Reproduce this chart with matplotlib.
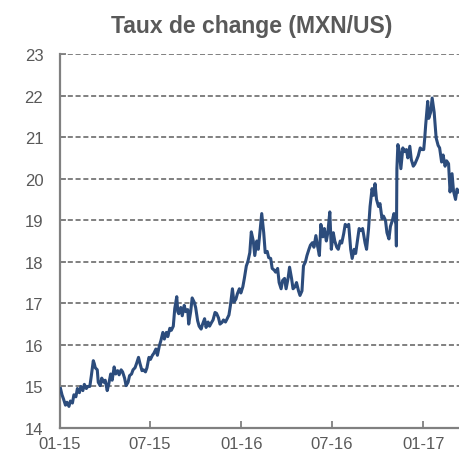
import matplotlib
matplotlib.use("Agg")
import matplotlib.pyplot as plt
import matplotlib.dates as mdates
import pandas as pd

plt.rcParams['font.family'] = ['Liberation Sans', 'DejaVu Sans']

title = "Taux de change (MXN/US)"

dates = [
    "2015-01-02","2015-01-05","2015-01-08","2015-01-12","2015-01-15","2015-01-19","2015-01-22","2015-01-26","2015-01-29",
    "2015-02-02","2015-02-05","2015-02-09","2015-02-12","2015-02-16","2015-02-19","2015-02-23","2015-02-26",
    "2015-03-02","2015-03-05","2015-03-09","2015-03-11","2015-03-13","2015-03-17","2015-03-19","2015-03-23","2015-03-26","2015-03-30",
    "2015-04-02","2015-04-06","2015-04-09","2015-04-13","2015-04-16","2015-04-20","2015-04-23","2015-04-27","2015-04-30",
    "2015-05-04","2015-05-07","2015-05-11","2015-05-14","2015-05-18","2015-05-21","2015-05-25","2015-05-28",
    "2015-06-01","2015-06-04","2015-06-08","2015-06-11","2015-06-15","2015-06-18","2015-06-22","2015-06-25","2015-06-29",
    "2015-07-02","2015-07-06","2015-07-09","2015-07-13","2015-07-16","2015-07-20","2015-07-23","2015-07-27","2015-07-30",
    "2015-08-03","2015-08-06","2015-08-10","2015-08-13","2015-08-17","2015-08-20","2015-08-24","2015-08-26","2015-08-28",
    "2015-09-01","2015-09-04","2015-09-08","2015-09-11","2015-09-15","2015-09-17","2015-09-21","2015-09-24","2015-09-28",
    "2015-10-01","2015-10-05","2015-10-08","2015-10-12","2015-10-15","2015-10-19","2015-10-22","2015-10-26","2015-10-29",
    "2015-11-02","2015-11-05","2015-11-09","2015-11-12","2015-11-16","2015-11-19","2015-11-23","2015-11-26","2015-11-30",
    "2015-12-03","2015-12-07","2015-12-10","2015-12-14","2015-12-17","2015-12-21","2015-12-24","2015-12-28","2015-12-31",
    "2016-01-04","2016-01-07","2016-01-11","2016-01-14","2016-01-18","2016-01-21","2016-01-25","2016-01-28",
    "2016-02-01","2016-02-04","2016-02-08","2016-02-11","2016-02-15","2016-02-18","2016-02-22","2016-02-25","2016-02-29",
    "2016-03-03","2016-03-07","2016-03-10","2016-03-14","2016-03-17","2016-03-21","2016-03-24","2016-03-28","2016-03-31",
    "2016-04-04","2016-04-07","2016-04-11","2016-04-14","2016-04-18","2016-04-21","2016-04-25","2016-04-28",
    "2016-05-02","2016-05-05","2016-05-09","2016-05-12","2016-05-16","2016-05-19","2016-05-23","2016-05-26","2016-05-30",
    "2016-06-02","2016-06-06","2016-06-09","2016-06-13","2016-06-16","2016-06-20","2016-06-23","2016-06-27","2016-06-30",
    "2016-07-04","2016-07-07","2016-07-11","2016-07-14","2016-07-18","2016-07-21","2016-07-25","2016-07-28",
    "2016-08-01","2016-08-04","2016-08-08","2016-08-11","2016-08-15","2016-08-18","2016-08-22","2016-08-25","2016-08-29",
    "2016-09-01","2016-09-06","2016-09-09","2016-09-13","2016-09-16","2016-09-20","2016-09-23","2016-09-26","2016-09-29",
    "2016-10-03","2016-10-06","2016-10-10","2016-10-13","2016-10-17","2016-10-20","2016-10-24","2016-10-27","2016-10-31",
    "2016-11-03","2016-11-07","2016-11-08","2016-11-09","2016-11-11","2016-11-14","2016-11-17","2016-11-21","2016-11-24","2016-11-28",
    "2016-12-01","2016-12-05","2016-12-08","2016-12-12","2016-12-15","2016-12-19","2016-12-22","2016-12-26","2016-12-29",
    "2017-01-02","2017-01-04","2017-01-06","2017-01-10","2017-01-12","2017-01-16","2017-01-19","2017-01-23","2017-01-27","2017-01-31",
    "2017-02-03","2017-02-07","2017-02-10","2017-02-14","2017-02-17","2017-02-21","2017-02-24","2017-02-28",
    "2017-03-03","2017-03-07","2017-03-10","2017-03-13",
]

rates = [
    14.95,14.80,14.70,14.55,14.62,14.52,14.65,14.60,14.80,
    14.75,14.95,14.85,15.00,14.90,15.05,14.95,15.00,
    15.00,15.25,15.62,15.55,15.45,15.40,15.10,15.02,15.20,15.10,
    15.15,14.90,15.05,15.30,15.15,15.47,15.30,15.38,15.28,
    15.40,15.35,15.20,15.02,15.10,15.26,15.30,15.40,
    15.45,15.55,15.70,15.55,15.38,15.40,15.35,15.45,15.70,
    15.65,15.75,15.80,15.90,15.75,15.98,16.10,16.30,16.14,
    16.30,16.20,16.40,16.35,16.45,16.88,17.16,16.80,16.75,
    16.90,16.70,16.95,16.80,16.85,16.50,16.80,17.13,17.03,
    16.90,16.58,16.45,16.38,16.50,16.63,16.42,16.55,16.45,
    16.54,16.60,16.78,16.76,16.65,16.50,16.54,16.60,16.55,
    16.62,16.72,16.95,17.35,17.03,17.10,17.23,17.35,17.25,
    17.40,17.60,17.90,18.00,18.22,18.72,18.50,18.15,
    18.50,18.30,18.80,19.16,18.70,18.22,18.25,18.10,18.08,
    17.84,17.80,17.75,17.84,17.50,17.35,17.55,17.60,17.35,
    17.60,17.87,17.60,17.35,17.40,17.50,17.30,17.19,
    17.30,17.90,18.00,18.15,18.30,18.40,18.46,18.35,18.63,
    18.40,18.15,18.90,18.60,18.80,18.50,18.70,19.20,18.30,
    18.70,18.50,18.35,18.30,18.50,18.45,18.68,18.90,
    18.85,18.90,18.30,18.08,18.30,18.20,18.55,18.80,18.75,
    18.80,18.45,18.30,18.80,19.33,19.76,19.60,19.88,19.50,
    19.33,19.40,19.04,19.10,19.00,18.70,18.55,18.85,19.00,
    19.16,18.90,18.38,20.24,20.82,20.65,20.24,20.74,20.65,20.70,
    20.50,20.78,20.46,20.30,20.35,20.46,20.55,20.74,20.70,
    20.70,20.97,21.30,21.86,21.45,21.60,21.94,21.60,20.98,20.80,
    20.74,20.40,20.57,20.30,20.43,20.36,19.68,20.12,
    19.70,19.50,19.75,19.68,
]

x_tick_dates = ["2015-01-01", "2015-07-01", "2016-01-01", "2016-07-01", "2017-01-01"]
y_ticks = [14, 15, 16, 17, 18, 19, 20, 21, 22, 23]

gray = "#808080"
text_col = "#595959"
line_col = "#2C4C7C"

fig = plt.figure(figsize=(4.59, 4.60), dpi=100)
ax = fig.add_axes([60/459, 1 - 429/460, 1 - 60/459, (429 - 55)/460])

x = pd.to_datetime(dates)
ax.plot(x, rates, color=line_col, lw=2.2, solid_joinstyle='round', zorder=3)

ax.set_ylim(14, 23)
ax.set_yticks(y_ticks)
ax.set_xlim(pd.Timestamp("2015-01-01"), pd.Timestamp("2017-03-14"))
ax.set_xticks(pd.to_datetime(x_tick_dates))
ax.xaxis.set_major_formatter(mdates.DateFormatter("%m-%y"))

ax.yaxis.grid(True, color=gray, lw=1.4, linestyle=(0, (2.6, 1.4)))
ax.xaxis.grid(False)
ax.set_axisbelow(True)

for s in ["top", "right"]:
    ax.spines[s].set_visible(False)
for s in ["left", "bottom"]:
    ax.spines[s].set_color(gray)
    ax.spines[s].set_linewidth(1.6)

ax.tick_params(axis="y", direction="in", length=4, width=1.3, color=gray,
               labelcolor=text_col, labelsize=12, pad=12)
ax.tick_params(axis="x", direction="in", length=5, width=1.3, color=gray,
               labelcolor=text_col, labelsize=12, pad=6)

fig.text(251.5/459, 1 - 26/460, title, ha="center", va="center",
         fontsize=16.5, fontweight="bold", color=text_col)

fig.savefig("out.png", dpi=100)
